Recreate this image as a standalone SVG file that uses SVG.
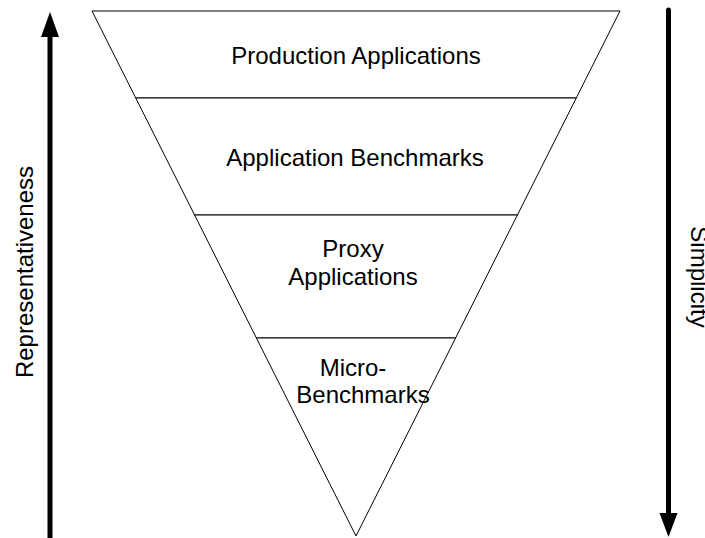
<svg xmlns="http://www.w3.org/2000/svg" width="705" height="538" viewBox="0 0 705 538">
<style>
.band{fill:#fff;stroke:#000;stroke-width:1}
.t{font-family:"Liberation Sans",Arial,Helvetica,sans-serif;font-size:24px;fill:#000;text-anchor:middle}
.shaft{stroke:#000;stroke-width:5;fill:none}
</style>
<rect width="705" height="538" fill="#fff"/>
<g id="production-applications">
<polygon class="band" points="92,11 620,11 576.25,98 135.75,98"/>
<text class="t" x="356" y="64">Production Applications</text>
</g>
<g id="application-benchmarks">
<polygon class="band" points="135.75,98 576.25,98 517.4,215 194.6,215"/>
<text class="t" x="355" y="166">Application Benchmarks</text>
</g>
<g id="proxy-applications">
<polygon class="band" points="194.6,215 517.4,215 455.6,338 256.4,338"/>
<text class="t" x="353" y="257">Proxy</text>
<text class="t" x="353" y="285">Applications</text>
</g>
<g id="micro-benchmarks">
<polygon class="band" points="256.4,338 455.6,338 356,536"/>
<text class="t" x="353" y="376">Micro-</text>
<text class="t" x="363" y="403">Benchmarks</text>
</g>
<g id="connectors">
<line class="shaft" x1="50" y1="538" x2="50" y2="34"/>
<polygon points="50,12 59,37 41,37" fill="#000"/>
<line class="shaft" x1="668.5" y1="10" x2="668.5" y2="515" stroke-linecap="round"/>
<polygon points="659.5,513 677.5,513 668.5,537" fill="#000"/>
</g>
<g id="labels">
<text class="t" transform="translate(33,272) rotate(-90)" x="0" y="0">Representativeness</text>
<text class="t" transform="translate(691,277) rotate(90)" x="0" y="0">Simplicity</text>
</g>
</svg>
